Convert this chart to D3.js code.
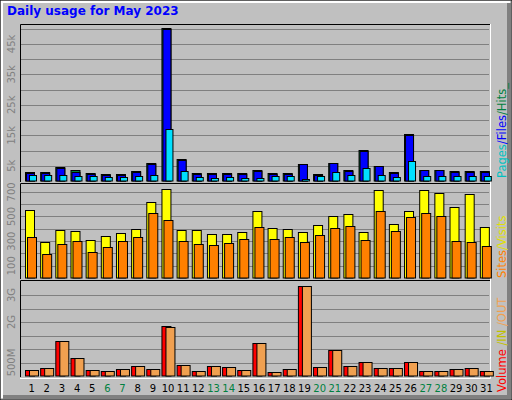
<!DOCTYPE html><html><head><meta charset="utf-8">
<script src="https://cdn.jsdelivr.net/npm/d3@7"></script>
<style>body{margin:0;background:#fff}</style></head><body>
<script>
const days=d3.range(1,32);
const weekends=[6,7,13,14,20,21,27,28];
const hits=[2.8,2.8,4.6,3.5,2.5,2.2,2.2,3.2,5.8,50.2,7.2,2.5,2.5,2.5,2.5,3.5,2.5,2.5,5.7,2.3,6.0,3.5,10.2,5.0,2.9,15.4,3.7,3.7,3.2,3.2,3.2];
const files=[2.6,2.6,4.4,3.1,2.3,2.0,2.0,2.9,5.5,49.8,6.8,2.3,2.3,2.3,2.3,3.3,2.3,2.3,5.5,2.1,5.8,3.3,10.0,4.8,2.7,15.1,3.5,3.5,3.0,3.0,3.0];
const pages=[2.0,2.0,2.0,1.6,1.5,1.2,1.2,1.6,2.0,17.0,3.2,1.2,0.9,1.2,1.1,1.1,1.6,1.6,0.8,1.6,3.0,2.0,4.3,2.0,1.2,6.6,1.6,1.6,1.6,1.6,1.6];
const visits=[550,290,388,380,306,339,363,396,615,721,388,388,355,355,371,542,404,396,371,428,501,517,371,713,437,542,713,688,575,680,412];
const sites=[331,193,274,298,209,250,298,331,526,469,298,274,266,282,315,412,315,331,290,347,404,420,306,542,380,493,526,501,298,290,258];
const volIn=[0.21,0.28,1.28,0.65,0.21,0.17,0.25,0.36,0.25,1.84,0.40,0.17,0.36,0.32,0.21,1.21,0.14,0.25,3.32,0.32,0.95,0.36,0.51,0.28,0.28,0.51,0.17,0.17,0.25,0.28,0.17];
const volOut=[0.21,0.28,1.28,0.65,0.21,0.17,0.25,0.36,0.25,1.80,0.40,0.17,0.36,0.32,0.21,1.21,0.14,0.25,3.32,0.32,0.95,0.36,0.51,0.28,0.28,0.51,0.17,0.17,0.25,0.28,0.17];
const ticks1=[5,15,25,35,45], tickLab1=["5k","15k","25k","35k","45k"];
const ticks2=[100,300,500,700];
const ticks3=[0.5,2,3], tickLab3=["500M","2G","3G"];

const W=512,H=400;
const svg=d3.select("body").append("svg").attr("width",W).attr("height",H).style("display","block")
 .style("font-family","'DejaVu Sans',sans-serif");
svg.append("rect").attr("width",W).attr("height",H).attr("fill","#c0c0c0");
svg.append("rect").attr("x",0).attr("y",0).attr("width",W).attr("height",H).attr("fill","none").attr("stroke","#000");
svg.append("path").attr("d",`M2,${H-2}V2H${W-2}`).attr("stroke","#fff").attr("stroke-width",2).attr("fill","none");
svg.append("path").attr("d",`M3,${H-3}H${W-3}V3`).attr("stroke","#808080").attr("stroke-width",4).attr("fill","none");
svg.append("text").attr("x",7).attr("y",15).text("Daily usage for May 2023").attr("fill","#0000ff")
 .attr("font-weight","bold").attr("font-size",12);

const x=d3.scaleBand().domain(days).range([20,490]).padding(0);
const panels=[{top:25,bot:181,max:51.2},{top:184,bot:278,max:764},{top:281,bot:376,max:3.52}];
const ys=panels.map(p=>d3.scaleLinear().domain([0,p.max]).range([p.bot,p.top]));
const gridSteps=[d3.range(5,51,5),d3.range(100,764,100),d3.range(0.5,3.5,0.5)];
panels.forEach((p,i)=>{
  const g=svg.append("g");
  g.selectAll("line").data(gridSteps[i]).join("line").attr("x1",21).attr("x2",489)
   .attr("y1",d=>Math.round(ys[i](d))+0.5).attr("y2",d=>Math.round(ys[i](d))+0.5).attr("stroke","#808080");
  g.append("path").attr("d",`M20.5,${p.bot+1}V${p.top-0.5}H490`).attr("stroke","#000").attr("fill","none");
  g.append("path").attr("d",`M20,${p.bot+2.5}H490.5V${p.top-1}`).attr("stroke","#fff").attr("fill","none");
});
function bars(data,yi,dx,w,fill){
  const y=ys[yi];
  svg.append("g").selectAll("rect").data(data).join("rect")
   .attr("x",(d,i)=>x(days[i])+dx+0.5).attr("width",w).attr("y",d=>Math.round(y(d))+0.5)
   .attr("height",d=>Math.max(0,panels[yi].bot-Math.round(y(d))-0.5)).attr("fill",fill).attr("stroke","#000");
}
bars(hits,0,5,9,"#008040");
bars(files,0,6,8,"#0000ff");
bars(pages,0,9,7,"#00e0ff");
bars(visits,1,5,9,"#ffff00");
bars(sites,1,7,9,"#ff8000");
bars(volIn,2,5,9,"#ff0000");
bars(volOut,2,9,9,"#f0a050");
function ylabels(vals,labs,yi){
  svg.append("g").selectAll("text").data(vals).join("text")
   .attr("transform",d=>`translate(15,${ys[yi](d)}) rotate(-90)`).attr("text-anchor","middle")
   .attr("font-size",10).attr("fill","#808080").text((d,i)=>labs[i]);
}
ylabels(ticks1,tickLab1,0);
ylabels(ticks2,ticks2.map(String),1);
ylabels(ticks3,tickLab3,2);
svg.append("g").selectAll("text").data(days).join("text").attr("x",d=>x(d)+x.bandwidth()/2+4).attr("y",392)
 .attr("text-anchor","middle").attr("font-size",10).attr("fill",d=>weekends.includes(d)?"#008040":"#000").text(d=>d);
function rlabel(y,parts){
  const t=svg.append("text").attr("transform",`translate(506,${y}) rotate(-90)`).attr("font-size",11.5);
  parts.forEach(([s,c])=>t.append("tspan").text(s).attr("fill",c));
}
rlabel(178,[["Pages","#00c0c0"],["/Files","#0000ff"],["/Hits_","#008040"]]);
rlabel(278,[["Sites","#ff8000"],["/Visits","#e0e000"]]);
rlabel(392,[["Volume","#ff0000"],[" /IN","#c0c000"],[" /OUT","#f0a050"]]);
</script></body></html>
